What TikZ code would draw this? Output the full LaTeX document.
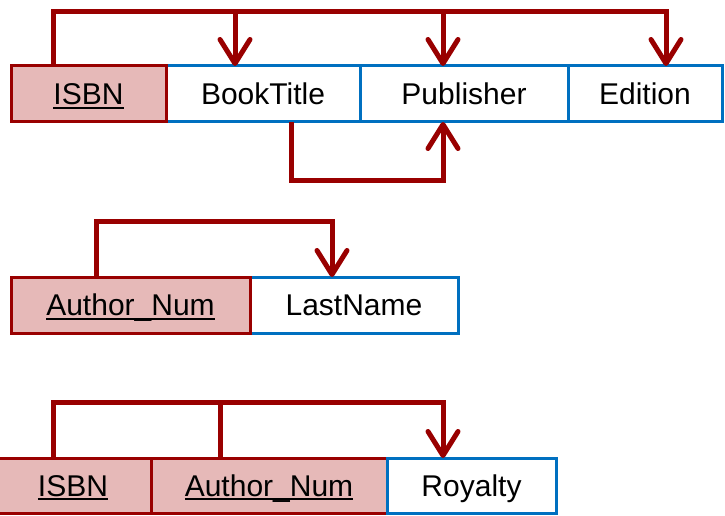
\documentclass[tikz,border=0pt]{standalone}
\usepackage{fontspec}
\setmainfont{Liberation Sans}
\usetikzlibrary{arrows.meta}
\definecolor{kred}{HTML}{990000}
\definecolor{kpink}{HTML}{E6B9B8}
\definecolor{kblue}{HTML}{0070C0}
\newcommand\ulkey[1]{\setbox0\hbox{#1}\rlap{\rule[-4pt]{\wd0}{2pt}}\box0}
\begin{document}
\begin{tikzpicture}[x=1pt,y=-1pt,
  cell/.style={rectangle, inner sep=0pt, outer sep=0pt, line width=3pt,
    font=\fontsize{30}{36}\selectfont, text height=21.5pt, text depth=0pt,
    anchor=north west, line join=miter},
  keycell/.style={cell, draw=kred, fill=kpink},
  attcell/.style={cell, draw=kblue, fill=white},
  link/.style={draw=kred, line width=5pt, line join=miter},
  conn/.style={link, -{Straight Barb[length=24pt,width=30pt,round]}}
]
\useasboundingbox (0,0) rectangle (725,516);
% Row 1
\node[attcell, minimum width=194pt, minimum height=56pt] (bt) at (166,66) {BookTitle};
\node[attcell, minimum width=208pt, minimum height=56pt] (pub) at (360,66) {Publisher};
\node[attcell, minimum width=154pt, minimum height=56pt] (ed) at (568,66) {Edition};
\node[keycell, minimum width=155pt, minimum height=56pt] (isbn1) at (11,66) {\ulkey{ISBN}};
\coordinate (t1) at (53,12);
\coordinate (t2) at (235,12);
\coordinate (t3) at (443,12);
\coordinate (t4) at (666,12);
\draw[conn] (isbn1.north -| t1) -- (t1) -- (t4) -- (t4 |- ed.north);
\draw[conn] (t2) -- (t2 |- bt.north);
\draw[conn] (t3) -- (t3 |- pub.north);
\coordinate (b1) at (291,180);
\coordinate (b2) at (443,180);
\draw[conn] (bt.south -| b1) -- (b1) -- (b2) -- (b2 |- pub.south);
% Row 2
\node[attcell, minimum width=208pt, minimum height=56pt] (ln) at (250,277) {LastName};
\node[keycell, minimum width=239pt, minimum height=56pt] (an2) at (11,277) {\ulkey{Author\_Num}};
\coordinate (r1) at (96,221);
\coordinate (r2) at (332,221);
\draw[conn] (an2.north -| r1) -- (r1) -- (r2) -- (r2 |- ln.north);
% Row 3
\node[keycell, minimum width=156pt, minimum height=55pt] (isbn3) at (-5,458) {\ulkey{ISBN}};
\node[keycell, minimum width=236pt, minimum height=55pt] (an3) at (151,458) {\ulkey{Author\_Num}};
\node[attcell, minimum width=169pt, minimum height=55pt] (roy) at (387,458) {Royalty};
\coordinate (s1) at (53,402);
\coordinate (s2) at (220,402);
\coordinate (s3) at (443,402);
\draw[conn] (isbn3.north -| s1) -- (s1) -- (s3) -- (s3 |- roy.north);
\draw[link] (an3.north -| s2) -- (s2);
\end{tikzpicture}
\end{document}
